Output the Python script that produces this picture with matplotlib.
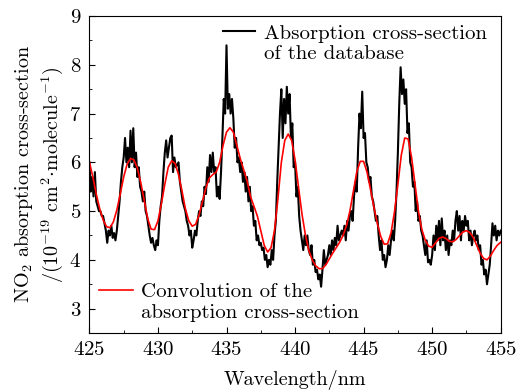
import numpy as np
import matplotlib
matplotlib.use("Agg")
import matplotlib.pyplot as plt
from matplotlib.ticker import MultipleLocator
from matplotlib.lines import Line2D

plt.rcParams['font.family'] = ['cmr10', 'DejaVu Serif']
plt.rcParams['mathtext.fontset'] = 'cm'
plt.rcParams['axes.formatter.use_mathtext'] = True

# database cross-section, read every 0.1 nm from 425 to 455
wl_db = np.round(np.arange(425.0, 455.05, 0.1), 2)
xs_db = [
    6.0, 5.4, 5.7, 5.3, 5.8, 5.2, 5.1, 5.0, 5.0, 4.9,   # 425
    4.9, 4.75, 4.6, 4.35, 4.6, 4.5, 4.7, 4.45, 4.55, 4.4,   # 426
    4.6, 4.9, 5.2, 5.6, 5.9, 6.1, 6.5, 6.0, 6.3, 5.9,   # 427
    6.65, 6.0, 6.7, 5.9, 6.2, 5.7, 5.9, 5.5, 5.4, 5.2,   # 428
    5.4, 5.0, 4.9, 4.7, 4.5, 4.35, 4.45, 4.3, 4.2, 4.4,   # 429
    4.3, 4.8, 5.1, 5.3, 5.8, 6.2, 6.45, 6.1, 6.3, 6.5,   # 430
    6.55, 5.8, 6.1, 5.9, 5.95, 6.0, 5.6, 5.4, 5.2, 5.1,   # 431
    5.0, 4.8, 4.7, 4.5, 4.6, 4.25, 4.4, 4.6, 4.5, 4.8,   # 432
    5.0, 4.9, 5.2, 5.1, 5.5, 5.35, 5.9, 5.6, 6.15, 5.8,   # 433
    6.2, 5.8, 5.9, 5.3, 5.5, 5.25, 5.8, 6.5, 7.3, 7.0,   # 434
    8.4, 7.1, 7.4, 7.0, 7.3, 6.9, 6.3, 6.5, 6.0, 6.1,   # 435
    5.8, 6.0, 5.6, 5.8, 5.4, 5.7, 5.2, 5.5, 5.0, 5.1,   # 436
    4.7, 4.8, 4.4, 4.5, 4.3, 4.35, 4.2, 4.25, 4.0, 4.1,   # 437
    3.85, 4.0, 3.9, 4.2, 4.0, 4.5, 4.8, 5.6, 6.3, 7.0,   # 438
    7.5, 6.5, 7.3, 6.8, 7.55, 7.0, 7.4, 6.5, 6.8, 5.9,   # 439
    6.0, 5.3, 5.5, 4.9, 4.6, 4.4, 4.2, 4.5, 4.3, 4.5,   # 440
    4.2, 4.1, 4.3, 3.9, 4.0, 3.75, 3.8, 3.6, 3.7, 3.45,   # 441
    3.8, 4.2, 3.9, 4.0, 4.1, 4.3, 4.1, 4.4, 4.2, 4.45,   # 442
    4.3, 4.7, 4.4, 4.5, 4.6, 4.5, 4.7, 4.4, 4.8, 4.6,   # 443
    4.9, 5.0, 4.8, 5.3, 5.6, 5.4, 6.3, 7.0, 6.7, 7.45,   # 444
    6.5, 6.6, 6.0, 5.9, 5.6, 5.7, 5.3, 5.2, 5.0, 4.8,   # 445
    4.9, 4.5, 4.2, 4.4, 4.0, 4.1, 3.85, 4.0, 4.3, 4.1,   # 446
    4.4, 4.6, 4.4, 4.8, 5.4, 6.2, 7.2, 7.95, 7.4, 7.7,   # 447
    7.2, 7.5, 6.6, 6.8, 6.0, 5.9, 5.5, 5.6, 5.0, 5.2,   # 448
    4.8, 4.9, 4.6, 4.5, 4.3, 4.1, 4.4, 3.95, 4.0, 3.9,   # 449
    4.1, 4.5, 4.2, 4.7, 4.4, 4.8, 4.3, 4.85, 4.4, 4.6,   # 450
    4.2, 4.5, 4.1, 4.4, 4.3, 4.6, 4.4, 4.8, 5.0, 4.6,   # 451
    4.9, 4.4, 4.8, 4.6, 4.9, 4.7, 4.8, 4.4, 4.6, 4.3,   # 452
    4.5, 4.6, 4.4, 4.5, 4.2, 4.3, 3.9, 4.0, 3.7, 3.8,   # 453
    3.5, 3.7, 3.9, 4.3, 4.75, 4.5, 4.7, 4.4, 4.6, 4.5,   # 454
    4.6,                                                  # 455
]

# convolved cross-section, read every 0.25 nm
wl_conv = np.round(np.arange(425.0, 455.01, 0.25), 2)
xs_conv = [
    6.01, 5.70, 5.35, 5.05, 4.82, 4.68, 4.66, 4.78,   # 425-426.75
    5.02, 5.35, 5.70, 5.96, 6.08, 6.05, 5.88, 5.58,   # 427-428.75
    5.22, 4.85, 4.63, 4.62, 4.80, 5.15, 5.55, 5.90,   # 429-430.75
    6.03, 5.98, 5.75, 5.42, 5.05, 4.80, 4.69, 4.73,   # 431-432.75
    4.92, 5.20, 5.48, 5.68, 5.75, 5.80, 6.00, 6.35,   # 433-434.75
    6.62, 6.71, 6.62, 6.35, 6.08, 5.85, 5.62, 5.30,   # 435-436.75
    5.10, 4.90, 4.60, 4.30, 4.16, 4.25, 4.60, 5.25,   # 437-438.75
    6.00, 6.45, 6.58, 6.45, 6.05, 5.50, 4.95, 4.52,   # 439-440.75
    4.20, 4.00, 3.88, 3.82, 3.82, 3.90, 4.02, 4.14,   # 441-442.75
    4.25, 4.36, 4.50, 4.70, 5.00, 5.40, 5.80, 6.02,   # 443-444.75
    6.02, 5.80, 5.45, 5.08, 4.75, 4.48, 4.32, 4.33,   # 445-446.75
    4.55, 4.98, 5.55, 6.15, 6.50, 6.48, 6.10, 5.55,   # 447-448.75
    5.00, 4.62, 4.40, 4.28, 4.26, 4.35, 4.44, 4.47,   # 449-450.75
    4.44, 4.38, 4.37, 4.42, 4.50, 4.57, 4.60, 4.56,   # 451-452.75
    4.46, 4.30, 4.14, 4.03, 4.00, 4.08, 4.20, 4.30,   # 453-454.75
    4.36,                                             # 455
]

label_db = ['Absorption cross-section', 'of the database']
label_conv = ['Convolution of the', 'absorption cross-section']

fig = plt.figure(figsize=(5.29, 3.92), dpi=100)
ax = fig.add_axes([0.169, 0.1505, 0.7775, 0.8085])

l_db, = ax.plot(wl_db, xs_db, color='black', lw=1.5)
l_conv, = ax.plot(wl_conv, xs_conv, color='red', lw=1.2)

ax.set_xlim(425, 455)
ax.set_ylim(2.5, 9)
ax.xaxis.set_major_locator(MultipleLocator(5))
ax.xaxis.set_minor_locator(MultipleLocator(2.5))
ax.yaxis.set_major_locator(MultipleLocator(1))
ax.yaxis.set_minor_locator(MultipleLocator(0.5))
ax.tick_params(which='both', direction='in', labelsize=15, pad=6)
ax.tick_params(which='major', length=4)
ax.tick_params(which='minor', length=2.5)

ax.set_xlabel('Wavelength/nm', fontsize=14.5, labelpad=8)
ax.set_ylabel('NO$_2$ absorption cross-section\n'
              '/(10$^{-19}$ cm$^2$$\\cdot$molecule$^{-1}$)', fontsize=14.5,
              labelpad=3)

# second text line gets an empty handle so the line sits next to the first row
blank = Line2D([], [], color='none')
leg1 = ax.legend([l_db, blank], label_db,
                 loc='upper left', bbox_to_anchor=(0.325, 0.975), frameon=False,
                 fontsize=15, handlelength=1.55, handletextpad=0.4,
                 labelspacing=0.1, borderpad=0.0, borderaxespad=0.0)
ax.add_artist(leg1)
ax.legend([l_conv, blank], label_conv,
          loc='lower left', bbox_to_anchor=(0.024, 0.035), frameon=False,
          fontsize=15, handlelength=1.6, handletextpad=0.4,
          labelspacing=0.1, borderpad=0.0, borderaxespad=0.0)

fig.savefig('out.png', dpi=100)
